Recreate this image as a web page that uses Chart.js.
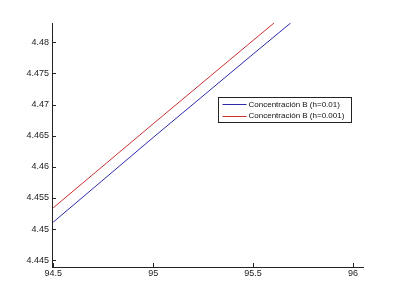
<!DOCTYPE html>
<html>
<head>
<meta charset="utf-8">
<script src="https://cdn.jsdelivr.net/npm/chart.js@4"></script>
<style>
  html, body { margin: 0; padding: 0; background: #fff; }
  #wrap { width: 400px; height: 300px; }
</style>
</head>
<body>
<div id="wrap"><canvas id="chart"></canvas></div>
<script>
// values
const seriesLabels = ['Concentración B (h=0.01)', 'Concentración B (h=0.001)'];
const xBlue = [94.5, 95, 95.5, 95.688];
const yBlue = [4.4511, 4.4647, 4.4781, 4.4831];
const xRed = [94.5, 95, 95.5, 95.605];
const yRed = [4.4534, 4.4669, 4.4803, 4.4831];
const xTicks = [94.5, 95, 95.5, 96];
const yTicks = [4.445, 4.45, 4.455, 4.46, 4.465, 4.47, 4.475, 4.48];

const toPoints = (xs, ys) => xs.map((x, i) => ({ x: x, y: ys[i] }));

// matlab style ticks: pointing into the plot
const innerTicks = {
    id: 'innerTicks',
    afterDraw(chart) {
        const ctx = chart.ctx;
        const a = chart.chartArea;
        const sx = chart.scales.x, sy = chart.scales.y;
        ctx.save();
        ctx.strokeStyle = '#222';
        ctx.lineWidth = 1;
        ctx.beginPath();
        xTicks.forEach(v => {
            const px = Math.round(sx.getPixelForValue(v)) + 0.5;
            ctx.moveTo(px, a.bottom);
            ctx.lineTo(px, a.bottom - 4);
        });
        yTicks.forEach(v => {
            const py = Math.round(sy.getPixelForValue(v)) + 0.5;
            ctx.moveTo(a.left, py);
            ctx.lineTo(a.left + 4, py);
        });
        ctx.stroke();
        ctx.restore();
    }
};

// boxed legend inside the axes
const boxLegend = {
    id: 'boxLegend',
    afterDraw(chart) {
        const ctx = chart.ctx;
        const x0 = 218.5, y0 = 97.5, w = 133, h = 25;
        ctx.save();
        ctx.fillStyle = '#fff';
        ctx.fillRect(x0, y0, w, h);
        ctx.strokeStyle = '#222';
        ctx.lineWidth = 1;
        ctx.strokeRect(x0, y0, w, h);
        ctx.font = '8px "Liberation Sans", Arial, sans-serif';
        ctx.textBaseline = 'middle';
        chart.data.datasets.forEach((ds, i) => {
            const yy = y0 + 6.5 + i * 11.5;
            ctx.strokeStyle = ds.borderColor;
            ctx.beginPath();
            ctx.moveTo(x0 + 4, Math.round(yy) + 0.5);
            ctx.lineTo(x0 + 28, Math.round(yy) + 0.5);
            ctx.stroke();
            ctx.fillStyle = '#111';
            ctx.fillText(ds.label, x0 + 30, yy + 0.5);
        });
        ctx.restore();
    }
};

const ctx1 = document.getElementById('chart').getContext('2d');
new Chart(ctx1, {
    type: 'line',
    data: {
        datasets: [{
            label: seriesLabels[0],
            data: toPoints(xBlue, yBlue),
            borderColor: '#2a2aa8',
            borderWidth: 1,
            pointRadius: 0,
            tension: 0
        }, {
            label: seriesLabels[1],
            data: toPoints(xRed, yRed),
            borderColor: '#c83232',
            borderWidth: 1,
            pointRadius: 0,
            tension: 0
        }]
    },
    options: {
        responsive: true,
        maintainAspectRatio: false,
        animation: false,
        layout: { padding: { top: 23, right: 37, left: 0, bottom: 0 } },
        plugins: { legend: { display: false }, tooltip: { enabled: false } },
        scales: {
            x: {
                type: 'linear',
                min: 94.494,
                max: 96.05,
                afterBuildTicks: s => { s.ticks = xTicks.map(v => ({ value: v })); },
                afterFit: s => { s.height = 33; },
                border: { display: true, color: '#222', width: 1 },
                grid: { display: false, drawTicks: false },
                ticks: {
                    padding: 1,
                    color: '#222',
                    font: { family: '"Liberation Sans", Arial, sans-serif', size: 9 },
                    maxRotation: 0,
                    callback: v => String(v)
                }
            },
            y: {
                type: 'linear',
                min: 4.4439,
                max: 4.4831,
                afterBuildTicks: s => { s.ticks = yTicks.map(v => ({ value: v })); },
                afterFit: s => { s.width = 52; },
                border: { display: true, color: '#222', width: 1 },
                grid: { display: false, drawTicks: false },
                ticks: {
                    padding: 3,
                    color: '#222',
                    font: { family: '"Liberation Sans", Arial, sans-serif', size: 9 },
                    callback: v => String(v)
                }
            }
        }
    },
    plugins: [innerTicks, boxLegend]
});
</script>
</body>
</html>
